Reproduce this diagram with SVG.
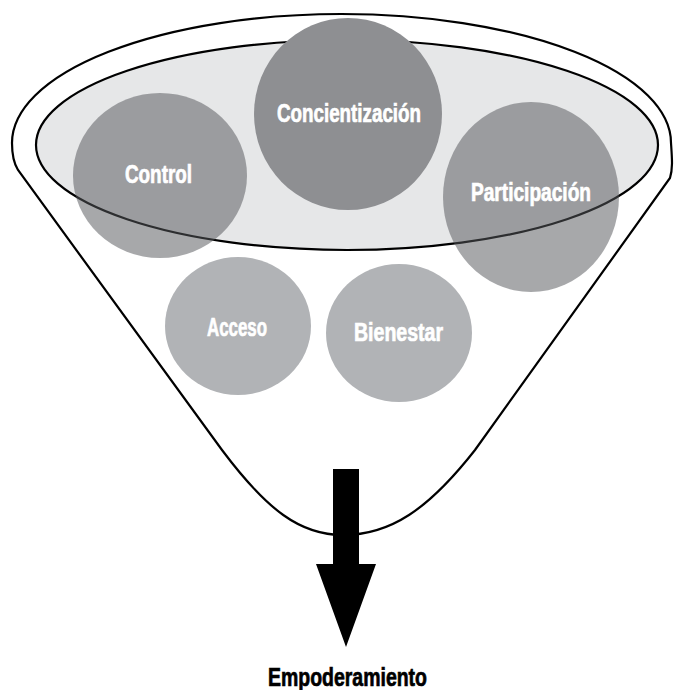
<svg xmlns="http://www.w3.org/2000/svg" width="676" height="690" viewBox="0 0 676 690">
<style>
.line{fill:none;stroke:#000;stroke-width:2.2}
.lbl{font-family:"Liberation Sans",Arial,sans-serif;font-weight:bold;font-size:25px;fill:#fff;stroke:#fff;stroke-width:0.7;text-anchor:middle}
.dark{fill:#000}
.semi{fill:#56585c;fill-opacity:0.52}
</style>
<g id="funnel">
<path class="line" style="fill:#fff" d="M 12,143 A 329.5,129 0 0 1 671,143 C 672,158 673,168 670,178 L 475,450 C 428,510 390,535 343,535 C 300,535 267,510 222,450 L 18,170 C 13,162 12,154 12,143 Z"/>
</g>
<g id="inner-ellipse">
<ellipse cx="347" cy="145" rx="311" ry="105" fill="#e6e7e8" stroke="#000" stroke-width="2.2"/>
</g>
<g id="node-concientizacion">
<ellipse cx="348" cy="114" rx="94" ry="96" fill="#8e8f92"/>
<text class="lbl" x="349" y="122" textLength="144" lengthAdjust="spacingAndGlyphs">Concientización</text>
</g>
<g id="node-control">
<ellipse class="semi" cx="160" cy="175.5" rx="87" ry="82.5"/>
<text class="lbl" x="158.5" y="183" textLength="67" lengthAdjust="spacingAndGlyphs">Control</text>
</g>
<g id="node-participacion">
<ellipse class="semi" cx="531" cy="197" rx="88" ry="95"/>
<text class="lbl" x="531" y="201" textLength="120" lengthAdjust="spacingAndGlyphs">Participación</text>
</g>
<g id="node-acceso">
<ellipse cx="238" cy="326" rx="73" ry="69" fill="#b1b3b6"/>
<text class="lbl" x="237" y="336" textLength="60" lengthAdjust="spacingAndGlyphs">Acceso</text>
</g>
<g id="node-bienestar">
<ellipse cx="399" cy="333" rx="73" ry="69" fill="#b1b3b6"/>
<text class="lbl" x="398.5" y="341" textLength="89" lengthAdjust="spacingAndGlyphs">Bienestar</text>
</g>
<g id="connectors">
<path class="dark" d="M 333,469 L 359,469 L 359,564 L 376,564 L 346,647 L 316,564 L 333,564 Z"/>
</g>
<g id="node-empoderamiento">
<text class="lbl" style="fill:#000;stroke:#000" x="347.5" y="686" textLength="159" lengthAdjust="spacingAndGlyphs">Empoderamiento</text>
</g>
</svg>
